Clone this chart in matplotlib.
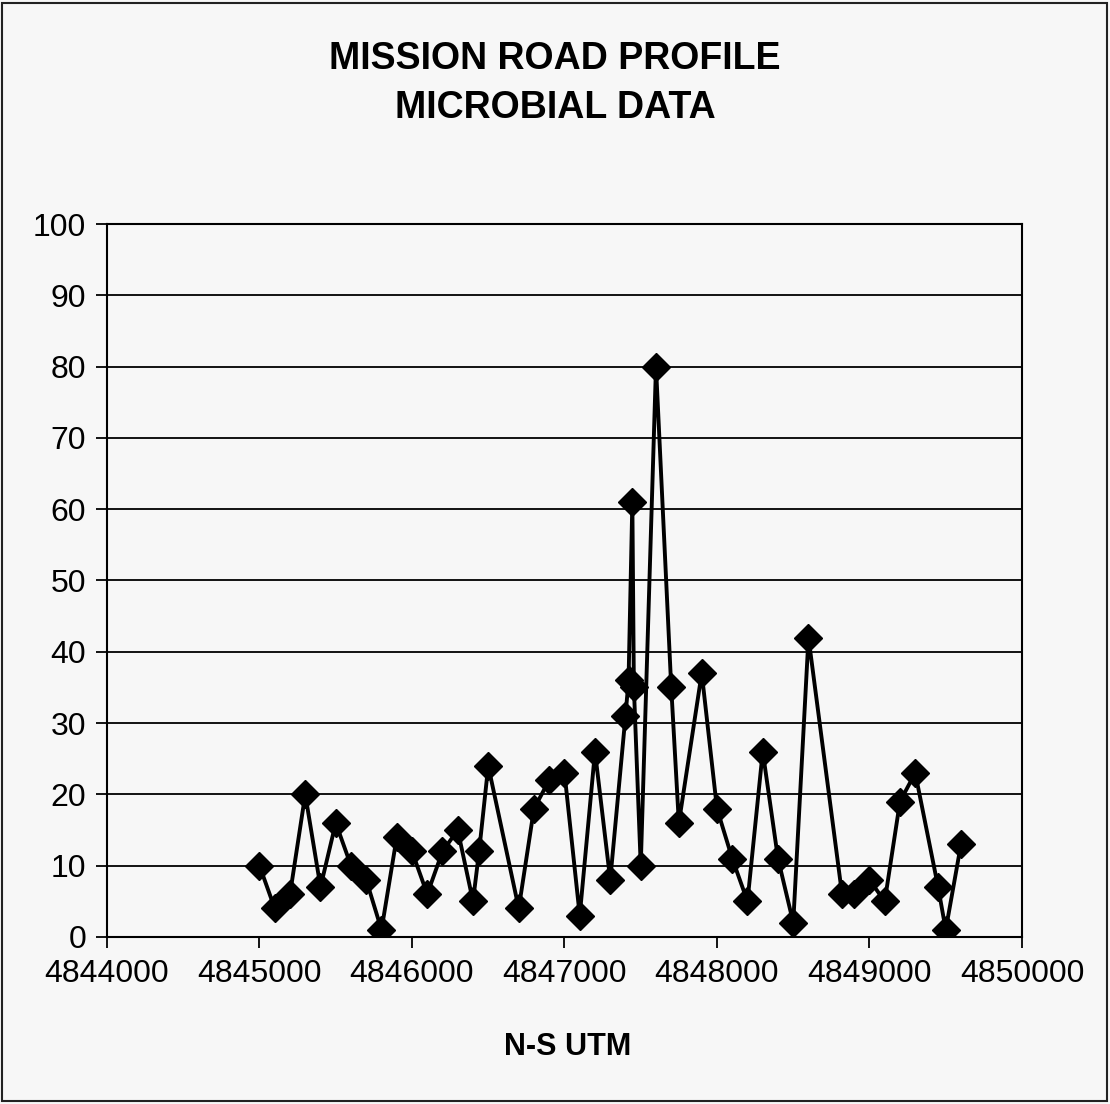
import matplotlib
matplotlib.use("Agg")
import matplotlib.pyplot as plt
from matplotlib.patches import Rectangle

# ================================
# DATA
# ================================

utm_ns = [4845000, 4845100, 4845200, 4845300, 4845400, 4845500, 4845600,
          4845700, 4845800, 4845900, 4846000, 4846100, 4846200, 4846300,
          4846400, 4846440, 4846500, 4846700, 4846800, 4846900, 4847000,
          4847100, 4847200, 4847300, 4847400, 4847420, 4847445, 4847455,
          4847500, 4847600, 4847700, 4847750, 4847900, 4848000, 4848100,
          4848200, 4848300, 4848400, 4848500, 4848600, 4848820, 4848900,
          4849000, 4849100, 4849200, 4849300, 4849450, 4849500, 4849600]
microbial = [10, 4, 6, 20, 7, 16, 10,
             8, 1, 14, 12, 6, 12, 15,
             5, 12, 24, 4, 18, 22, 23,
             3, 26, 8, 31, 36, 61, 35,
             10, 80, 35, 16, 37, 18, 11,
             5, 26, 11, 2, 42, 6, 6,
             8, 5, 19, 23, 7, 1, 13]

x_ticks = [4844000, 4845000, 4846000, 4847000, 4848000, 4849000, 4850000]
y_ticks = [0, 10, 20, 30, 40, 50, 60, 70, 80, 90, 100]

title_lines = ["MISSION ROAD PROFILE", "MICROBIAL DATA"]
x_title = "N-S UTM"

# ================================
# FIGURE
# ================================

plt.rcParams['font.family'] = ['Liberation Sans', 'DejaVu Sans']
bg = "#f7f7f7"

fig = plt.figure(figsize=(11.1, 11.04), dpi=100, facecolor=bg)
ax = fig.add_axes([0.0964, 0.1513, 0.8243, 0.6458], facecolor=bg)

# outer frame of the chart
fig.patches.append(Rectangle((0.002, 0.003), 0.995, 0.994, transform=fig.transFigure,
                             fill=False, edgecolor="#222222", linewidth=1.5))

for y in y_ticks[1:-1]:
    ax.axhline(y, color="black", linewidth=1.3, zorder=1)

ax.plot(utm_ns, microbial, color="black", linewidth=2.8, marker="D",
        markersize=14, markerfacecolor="black", markeredgecolor="black", zorder=3)

ax.set_xlim(4844000, 4850000)
ax.set_ylim(0, 100)
ax.set_xticks(x_ticks)
ax.set_xticklabels([str(v) for v in x_ticks])
ax.set_yticks(y_ticks)

for s in ax.spines.values():
    s.set_linewidth(1.5)
    s.set_color("black")

ax.tick_params(axis="both", direction="out", length=8, width=1.3,
               labelsize=23, colors="black")
ax.tick_params(axis="x", pad=8)
ax.tick_params(axis="y", pad=7)

fig.text(0.5, 0.947, title_lines[0], ha="center", va="center", fontsize=27,
         fontweight="bold")
fig.text(0.5, 0.902, title_lines[1], ha="center", va="center", fontsize=27,
         fontweight="bold")
fig.text(0.511, 0.052, x_title, ha="center", va="center", fontsize=22,
         fontweight="bold")

plt.savefig("out.png", dpi=100, facecolor=bg)
